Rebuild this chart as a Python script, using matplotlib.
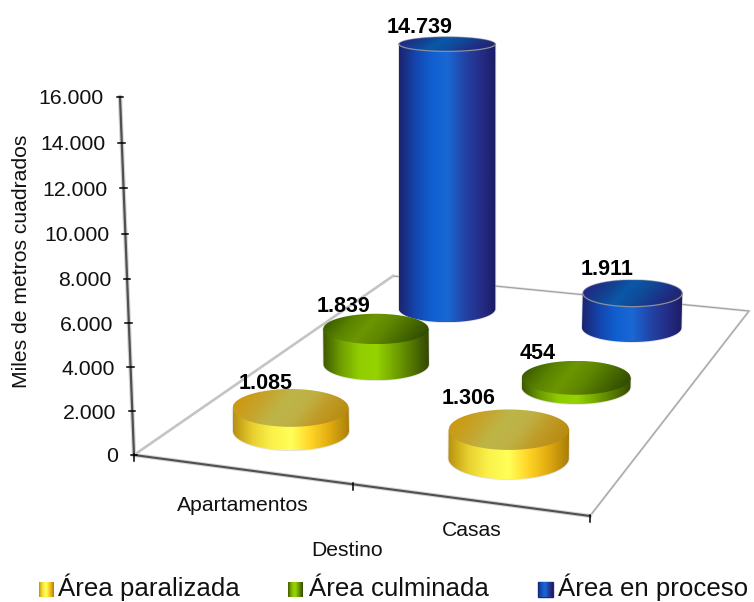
import numpy as np
import matplotlib
matplotlib.use('Agg')
import matplotlib.pyplot as plt
from matplotlib.colors import LinearSegmentedColormap
from matplotlib.patches import Polygon

plt.rcParams['font.family'] = ['Liberation Sans', 'DejaVu Sans']

categories = ['Apartamentos', 'Casas']
series_names = ['Área paralizada', 'Área culminada', 'Área en proceso']
paralizada = [1085, 1306]
culminada = [1839, 454]
en_proceso = [14739, 1911]
y_ticks = [0, 2000, 4000, 6000, 8000, 10000, 12000, 14000, 16000]
y_max = 16000

series_values = [paralizada, culminada, en_proceso]

side_colors = [
    ['#b8920f', '#e8d030', '#fbf24a', '#ffff58', '#ffd426', '#e0aa10', '#a87f0a'],
    ['#3f5a00', '#6f9e00', '#90cc00', '#96d400', '#76a800', '#557a00', '#344800'],
    ['#1b2470', '#1545ad', '#0f5fd0', '#1a68d4', '#2246a8', '#252f8a', '#1c1c66'],
]
top_colors = [
    ['#cc9a12', '#c6a42c', '#bdb548', '#bfb044', '#c09a24', '#b88c12'],
    ['#3f6000', '#5a8400', '#6c9600', '#5e8600', '#486a00', '#334e00'],
    ['#222a84', '#14408f', '#0a58a8', '#104a98', '#1c3288', '#222470'],
]
rim_colors = [None, None, '#8c8f9c']
# label offsets from the top of each cylinder, the picture has them a bit scattered
label_shift = [[(-25, -24), (-40, -31)], [(-32, -22), (-39, -24)], [(-28, -17), (-25, -24)]]

# floor corners on the image, perspective comes from them
corners = np.array([[134, 455], [590, 516], [749, 311], [393, 276]], dtype=float)
axis_top_x = 120
axis_len = 358
radius = 60


def make_homography():
    (x0, y0), (x1, y1), (x2, y2), (x3, y3) = corners
    dx1, dy1 = x1 - x2, y1 - y2
    dx2, dy2 = x3 - x2, y3 - y2
    sx, sy = x0 - x1 + x2 - x3, y0 - y1 + y2 - y3
    den = dx1 * dy2 - dx2 * dy1
    g = (sx * dy2 - dx2 * sy) / den
    h = (dx1 * sy - sx * dy1) / den
    return np.array([[x1 - x0 + g * x1, x3 - x0 + h * x3, x0],
                     [y1 - y0 + g * y1, y3 - y0 + h * y3, y0],
                     [g, h, 1.0]])


H = make_homography()


def floor(u, v):
    p = H @ np.array([u, v, 1.0])
    return p[0] / p[2], p[1] / p[2], p[2]


def height_px(value):
    t = value / y_max
    return axis_len * t / (1 + 0.03 * (1 - t))


def ellipse_ratio(y):
    return 0.13 + 0.00048 * y


fig = plt.figure(figsize=(7.54, 6.02), dpi=100)
ax = fig.add_axes([0, 0, 1, 1])
ax.set_xlim(0, 754)
ax.set_ylim(602, 0)
ax.axis('off')


def gradient(xa, xb, ya, yb, colors, clip, tilt=0.0):
    cmap = LinearSegmentedColormap.from_list('g', colors)
    xx, yy = np.meshgrid(np.linspace(0, 1, 200), np.linspace(0, 1, 60))
    img = np.clip(xx + tilt * (yy - 0.5), 0, 1)
    im = ax.imshow(img, extent=[xa, xb, yb, ya], cmap=cmap, vmin=0, vmax=1,
                   aspect='auto', interpolation='bilinear', zorder=clip.get_zorder())
    im.set_clip_path(clip)


def draw_cylinder(u, v, value, s, label_off):
    cx, cy, w = floor(u, v)
    a = radius / w
    top = cy - height_px(value) / w
    # verticals lean slightly toward a point far under the chart
    tx = cx + (cx - 446) * (cy - top) / 8000
    z = 4 + (1 - v) * 10
    t = np.linspace(0, np.pi, 80)
    bb = a * ellipse_ratio(cy)
    bt = a * ellipse_ratio(top)
    side = np.vstack([
        [[tx - a, top], [tx + a, top]],
        np.column_stack([cx + a * np.cos(t), cy + bb * np.sin(t)]),
    ])
    ax.add_patch(Polygon(side, closed=True, facecolor='none', edgecolor='#c8c8c8', lw=1.2,
                         alpha=0.5, zorder=z))
    p = Polygon(side, closed=True, facecolor='none', edgecolor='none', zorder=z)
    ax.add_patch(p)
    gradient(min(cx, tx) - a, max(cx, tx) + a, top - bt, cy + bb, side_colors[s], p)

    tt = np.linspace(0, 2 * np.pi, 160)
    cap = np.column_stack([tx + a * np.cos(tt), top + bt * np.sin(tt)])
    q = Polygon(cap, closed=True, facecolor='none', edgecolor='none', zorder=z + 0.1)
    ax.add_patch(q)
    gradient(tx - a, tx + a, top - bt, top + bt, top_colors[s], q, tilt=0.25)
    if rim_colors[s]:
        ax.plot(cap[:80, 0], cap[:80, 1], color=rim_colors[s], lw=0.9, zorder=z + 0.2)
        ax.plot(cap[80:, 0], cap[80:, 1], color=rim_colors[s], lw=0.8, alpha=0.45, zorder=z + 0.2)

    label = f'{value:,}'.replace(',', '.')
    ax.text(tx + label_off[0], top + label_off[1], label, ha='center', va='center',
            fontsize=15.5, fontweight='bold', color='black', zorder=30)


# floor edges
pts = np.array([floor(0, 0)[:2], floor(1, 0)[:2], floor(1, 1)[:2], floor(0, 1)[:2]])
ax.plot([pts[0, 0], pts[3, 0]], [pts[0, 1], pts[3, 1]], color='#c4c4c4', lw=1.9, zorder=1)
ax.plot([pts[3, 0], pts[2, 0], pts[1, 0]], [pts[3, 1], pts[2, 1], pts[1, 1]],
        color='#dadada', lw=1.7, zorder=1, solid_joinstyle='miter')
ax.plot([pts[3, 0], pts[2, 0], pts[1, 0]], [pts[3, 1], pts[2, 1], pts[1, 1]],
        color='#9c9c9c', lw=0.7, zorder=1.1, solid_joinstyle='miter')

# value axis
x0, y0 = pts[0]
ax.plot([x0, axis_top_x], [y0, y0 - axis_len], color='#d4d4d4', lw=3.2, zorder=2)
ax.plot([x0, axis_top_x], [y0, y0 - axis_len], color='#505050', lw=1.6, zorder=2.1)
for val in y_ticks:
    d = height_px(val)
    tx = x0 + (axis_top_x - x0) * d / axis_len
    ax.plot([tx - 3.5, tx + 3], [y0 - d, y0 - d], color='black', lw=1.1, zorder=3)
    ax.text(tx - 16, y0 - d + 2, f'{val:,}'.replace(',', '.'), ha='right', va='center',
            fontsize=15.3, color='#111111')

# category axis
ax.plot([pts[0, 0], pts[1, 0]], [pts[0, 1], pts[1, 1]], color='#d4d4d4', lw=3, zorder=2)
ax.plot([pts[0, 0], pts[1, 0]], [pts[0, 1], pts[1, 1]], color='#505050', lw=1.5, zorder=2.1)
for u in [0, 0.5, 1]:
    fx, fy, _ = floor(u, 0)
    ax.plot([fx, fx], [fy - 1, fy + 6], color='black', lw=1.1, zorder=3)

for i, name in enumerate(categories):
    u = 0.25 + 0.5 * i
    fx, fy, _ = floor(u, 0)
    ax.text(fx + [1.5, 2][i], fy + [36, 31][i], name, ha='center', va='center',
            fontsize=15.2, color='#111111')

ax.text(347, 551, 'Destino', ha='center', va='center', fontsize=15.2, color='#111111')
ax.text(21.5, 261, 'Miles de metros cuadrados', ha='center', va='center', rotation=90,
        fontsize=15.2, color='#111111')

for s in [2, 1, 0]:
    v = (s + 0.5) / 3
    for i, value in enumerate(series_values[s]):
        draw_cylinder(0.25 + 0.5 * i, v, value, s, label_shift[s][i])

# legend
swatch_x = [39, 288, 538]
text_x = [58, 309, 558]
for s, name in enumerate(series_names):
    sq = Polygon([(swatch_x[s], 582), (swatch_x[s] + 15, 582), (swatch_x[s] + 15, 597), (swatch_x[s], 597)],
                 closed=True, facecolor='none',
                 edgecolor='#222a60' if s == 2 else 'none', lw=1.0, zorder=5)
    ax.add_patch(sq)
    gradient(swatch_x[s], swatch_x[s] + 15, 582, 597, side_colors[s], sq)
    ax.text(text_x[s], 596, name, ha='left', va='baseline', fontsize=18.6, color='#111111')

ax.set_xlim(0, 754)
ax.set_ylim(602, 0)
fig.savefig('out.png', dpi=100)
